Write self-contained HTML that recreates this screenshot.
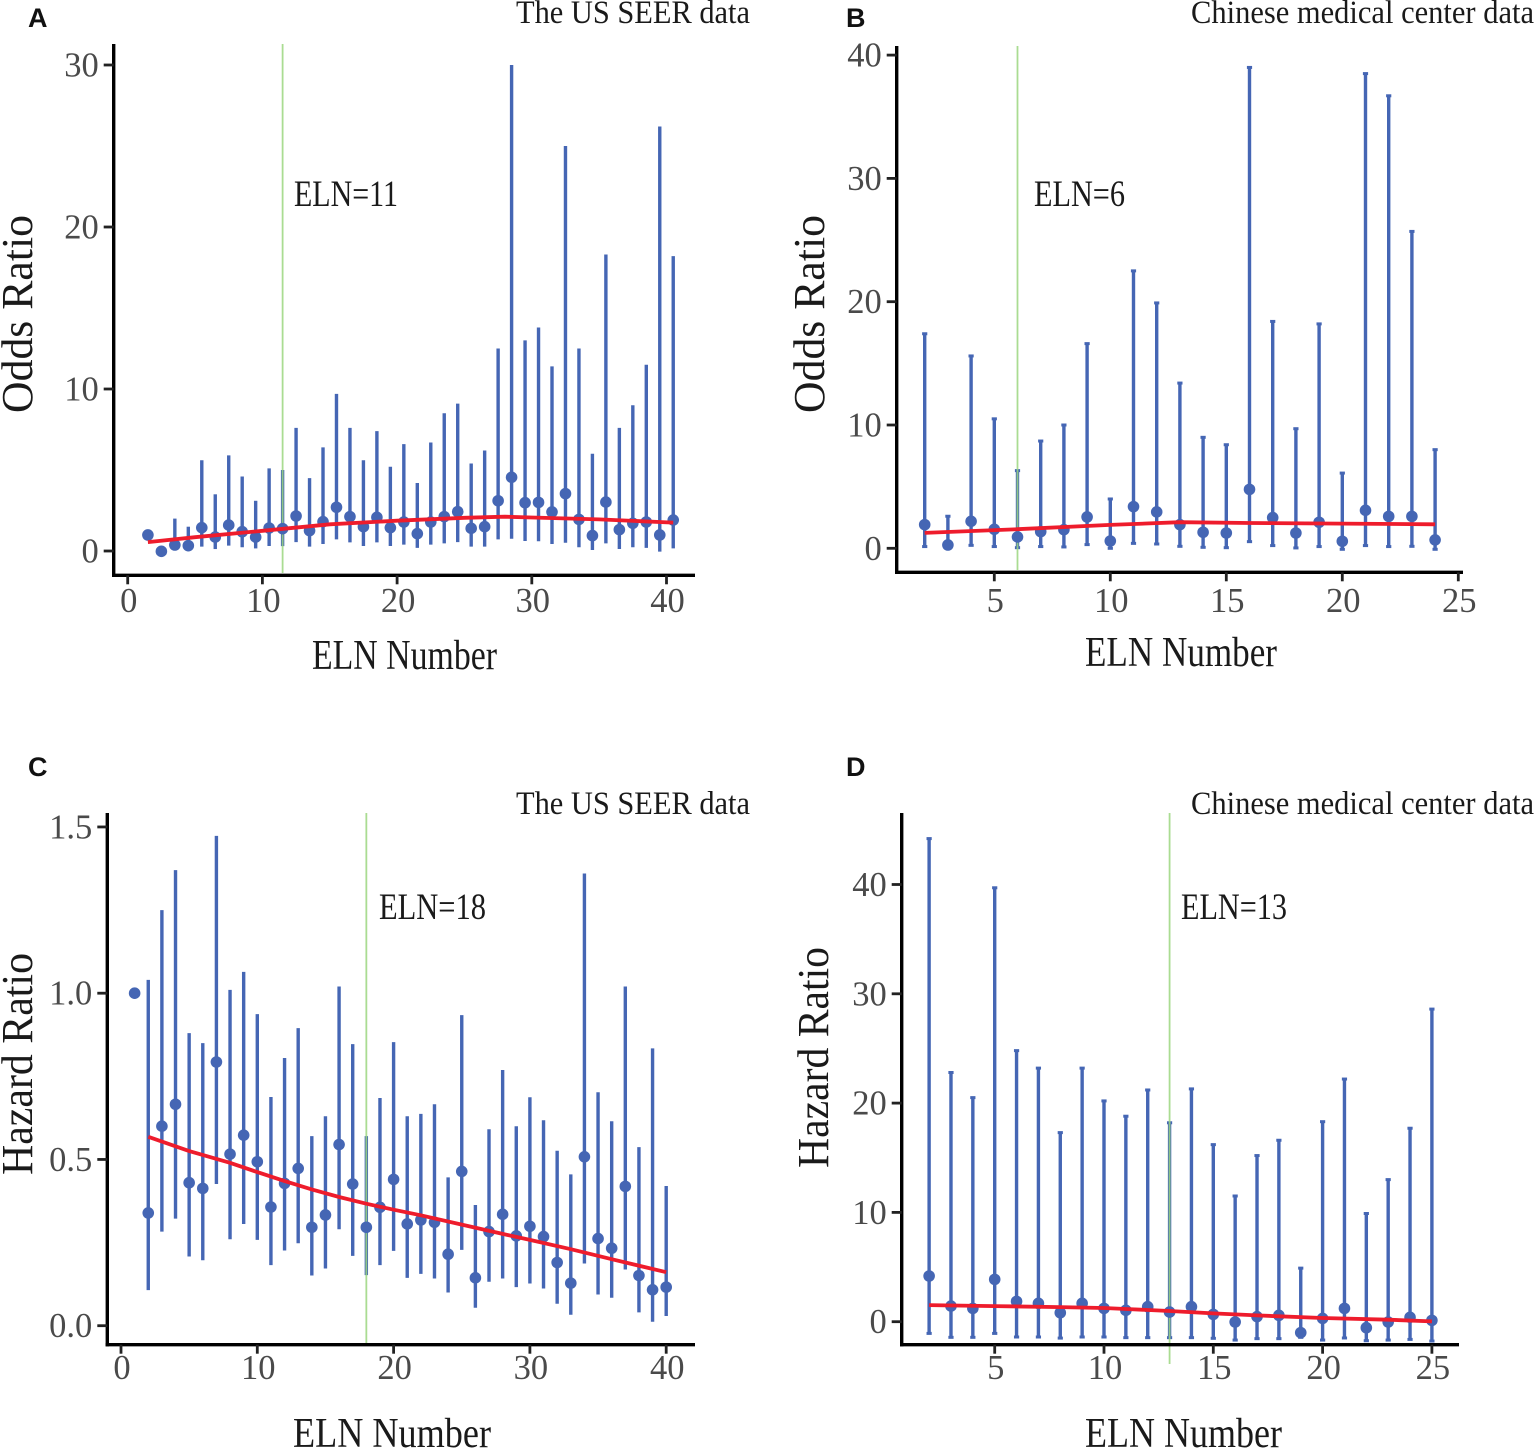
<!DOCTYPE html>
<html lang="en">
<head>
<meta charset="utf-8">
<title>ELN Number odds and hazard ratio panels</title>
<style>
  html, body { margin: 0; padding: 0; background: #fff; }
  body { width: 1535px; height: 1450px; overflow: hidden; }
  svg { display: block; }
  .serif { font-family: "Liberation Serif", serif; fill: #1a1a1a; }
  .tag { font-family: "Liberation Sans", sans-serif; font-weight: bold; font-size: 27px; fill: #111; }
  .tick { font-family: "Liberation Serif", serif; font-size: 34.5px; fill: #4a4a4a; }
</style>
</head>
<body>
<svg id="figure" width="1535" height="1450" viewBox="0 0 1535 1450" xmlns="http://www.w3.org/2000/svg">
  <rect width="1535" height="1450" fill="#fff"/>
  <g id="plot-a"></g>
  <g id="plot-b"></g>
  <g id="plot-c"></g>
  <g id="plot-d"></g>

  <text class="tag" x="28" y="27">A</text>
  <text class="tag" x="846" y="27">B</text>
  <text class="tag" x="28" y="776">C</text>
  <text class="tag" x="846" y="776">D</text>

  <text class="serif" x="516" y="23" font-size="33" textLength="234" lengthAdjust="spacingAndGlyphs">The US SEER data</text>
  <text class="serif" x="1191" y="23" font-size="33" textLength="343" lengthAdjust="spacingAndGlyphs">Chinese medical center data</text>
  <text class="serif" x="516" y="814" font-size="33" textLength="234" lengthAdjust="spacingAndGlyphs">The US SEER data</text>
  <text class="serif" x="1191" y="814" font-size="33" textLength="343" lengthAdjust="spacingAndGlyphs">Chinese medical center data</text>

  <text class="serif" x="294" y="206" font-size="37" textLength="104" lengthAdjust="spacingAndGlyphs">ELN=11</text>
  <text class="serif" x="1034" y="206" font-size="37" textLength="91" lengthAdjust="spacingAndGlyphs">ELN=6</text>
  <text class="serif" x="379" y="919" font-size="37" textLength="107" lengthAdjust="spacingAndGlyphs">ELN=18</text>
  <text class="serif" x="1181" y="919" font-size="37" textLength="106" lengthAdjust="spacingAndGlyphs">ELN=13</text>

  <text class="serif" x="312" y="669" font-size="42" textLength="185" lengthAdjust="spacingAndGlyphs">ELN Number</text>
  <text class="serif" x="1085" y="666" font-size="42" textLength="192" lengthAdjust="spacingAndGlyphs">ELN Number</text>
  <text class="serif" x="293" y="1447" font-size="42" textLength="198" lengthAdjust="spacingAndGlyphs">ELN Number</text>
  <text class="serif" x="1085" y="1447" font-size="42" textLength="197" lengthAdjust="spacingAndGlyphs">ELN Number</text>

  <text class="serif" transform="translate(32,413) rotate(-90)" font-size="44" textLength="198" lengthAdjust="spacingAndGlyphs">Odds Ratio</text>
  <text class="serif" transform="translate(824,413) rotate(-90)" font-size="44" textLength="198" lengthAdjust="spacingAndGlyphs">Odds Ratio</text>
  <text class="serif" transform="translate(32,1175) rotate(-90)" font-size="44" textLength="222" lengthAdjust="spacingAndGlyphs">Hazard Ratio</text>
  <text class="serif" transform="translate(828,1168) rotate(-90)" font-size="44" textLength="221" lengthAdjust="spacingAndGlyphs">Hazard Ratio</text>
</svg>

<script>
/* Panel A: US SEER odds ratio */
const aEln = [1.5,2.5,3.5,4.5,5.5,6.5,7.5,8.5,9.5,10.5,11.5,12.5,13.5,14.5,15.5,16.5,17.5,18.5,19.5,20.5,21.5,22.5,23.5,24.5,25.5,26.5,27.5,28.5,29.5,30.5,31.5,32.5,33.5,34.5,35.5,36.5,37.5,38.5,39.5,40.5];
const aMean = [0.99,-0.02,0.37,0.33,1.44,0.86,1.6,1.19,0.86,1.42,1.38,2.16,1.26,1.81,2.7,2.12,1.5,2.08,1.44,1.79,1.07,1.79,2.12,2.43,1.4,1.5,3.1,4.55,2.98,3.0,2.41,3.54,1.95,0.95,3.02,1.32,1.71,1.79,0.99,1.91];
const aLow = [null,null,0.2,0.2,0.27,0.12,0.33,0.23,0.16,0.31,0.3,0.55,0.27,0.43,0.72,0.53,0.31,0.53,0.31,0.39,0.19,0.39,0.47,0.55,0.27,0.27,0.72,0.76,0.62,0.6,0.43,0.51,0.23,0.06,0.47,0.12,0.23,0.19,-0.04,0.16];
const aHigh = [null,null,2.0,1.5,5.6,3.5,5.9,4.6,3.1,5.1,5.0,7.6,4.5,6.4,9.7,7.6,5.6,7.4,5.2,6.6,4.2,6.7,8.5,9.1,5.4,6.2,12.5,30,13,13.8,11.4,25,12.5,6.0,18.3,7.6,9.0,11.5,26.2,18.2];
const aFitX = [1.5,5,10,15,20,25,28,30,35,40.5];
const aFitY = [0.55,0.85,1.25,1.65,1.87,2.05,2.12,2.07,1.95,1.75];
const aThreshold = 11.5;
const aXTicks = [0,10,20,30,40];
const aYTicks = [0,10,20,30];
const aYLabels = ["0","10","20","30"];

/* Panel B: Chinese center odds ratio */
const bEln = [2,3,4,5,6,7,8,9,10,11,12,13,14,15,16,17,18,19,20,21,22,23,24];
const bMean = [1.92,0.27,2.19,1.54,0.92,1.35,1.51,2.54,0.59,3.38,2.95,1.92,1.3,1.24,4.78,2.49,1.24,2.11,0.57,3.08,2.59,2.59,0.68];
const bLow = [0.14,0.1,0.24,0.14,0.05,0.14,0.11,0.3,0,0.4,0.35,0.16,0.08,0.05,0.54,0.22,0.03,0.14,-0.08,0.22,0.14,0.16,-0.08];
const bHigh = [17.4,2.6,15.6,10.5,6.3,8.7,10,16.6,4.0,22.5,19.9,13.4,9.0,8.4,39,18.4,9.7,18.2,6.1,38.5,36.7,25.7,8.0];
const bFitX = [2,6,10,13,16,20,24];
const bFitY = [1.25,1.55,1.9,2.12,2.05,2.0,1.95];
const bThreshold = 6;
const bXTicks = [5,10,15,20,25];
const bYTicks = [0,10,20,30,40];
const bYLabels = ["0","10","20","30","40"];

/* Panel C: US SEER hazard ratio */
const cEln = [1,2,3,4,5,6,7,8,9,10,11,12,13,14,15,16,17,18,19,20,21,22,23,24,25,26,27,28,29,30,31,32,33,34,35,36,37,38,39,40];
const cMean = [1.0,0.339,0.6,0.666,0.43,0.413,0.793,0.516,0.573,0.493,0.357,0.428,0.473,0.296,0.333,0.545,0.426,0.296,0.356,0.44,0.306,0.318,0.311,0.215,0.464,0.144,0.283,0.335,0.27,0.299,0.268,0.19,0.128,0.508,0.262,0.233,0.419,0.151,0.108,0.116];
const cLow = [null,0.107,0.283,0.322,0.208,0.197,0.426,0.26,0.306,0.258,0.182,0.226,0.248,0.151,0.172,0.29,0.21,0.152,0.182,0.225,0.144,0.156,0.142,0.1,0.228,0.054,0.132,0.142,0.116,0.127,0.112,0.066,0.033,0.187,0.094,0.084,0.169,0.04,0.012,0.029];
const cHigh = [null,1.04,1.25,1.37,0.88,0.85,1.473,1.01,1.064,0.937,0.688,0.805,0.895,0.57,0.63,1.02,0.847,0.57,0.685,0.853,0.63,0.637,0.666,0.446,0.934,0.363,0.591,0.769,0.6,0.687,0.618,0.526,0.455,1.36,0.702,0.615,1.02,0.537,0.834,0.42];
const cFitX = [2,5,8,10,12,14,16,18,20,22,25,28,30,33,36,40];
const cFitY = [0.568,0.525,0.49,0.462,0.435,0.41,0.387,0.367,0.349,0.332,0.304,0.276,0.258,0.23,0.2,0.161];
const cThreshold = 18;
const cXTicks = [0,10,20,30,40];
const cYTicks = [0,0.5,1,1.5];
const cYLabels = ["0.0","0.5","1.0","1.5"];

/* Panel D: Chinese center hazard ratio */
const dEln = [2,3,4,5,6,7,8,9,10,11,12,13,14,15,16,17,18,19,20,21,22,23,24,25];
const dMean = [4.18,1.43,1.22,3.87,1.86,1.68,0.82,1.68,1.22,1.04,1.37,0.88,1.37,0.67,-0.03,0.46,0.58,-1.0,0.3,1.22,-0.55,-0.03,0.4,0.12];
const dLow = [-1.07,-1.43,-1.43,-1.07,-1.4,-1.4,-1.5,-1.4,-1.4,-1.46,-1.46,-1.46,-1.46,-1.52,-1.68,-1.55,-1.55,-1.43,-1.68,-1.49,-1.74,-1.68,-1.62,-1.77];
const dHigh = [44.2,22.8,20.5,39.7,24.8,23.2,17.3,23.2,20.2,18.8,21.2,18.2,21.3,16.2,11.5,15.2,16.6,4.9,18.3,22.2,9.9,13,17.7,28.6];
const dFitX = [2,5,8,10,11,13,15,17,20,23,25];
const dFitY = [1.52,1.43,1.34,1.25,1.16,0.98,0.76,0.58,0.34,0.18,0.03];
const dThreshold = 13;
const dXTicks = [5,10,15,20,25];
const dYTicks = [0,10,20,30,40];
const dYLabels = ["0","10","20","30","40"];

const NS = "http://www.w3.org/2000/svg";
const BLUE = "#4566b4";
const RED = "#ee1c2c";
const GREEN = "#9bd67f";

function make(tag, attrs, parent) {
  const el = document.createElementNS(NS, tag);
  for (const k in attrs) el.setAttribute(k, attrs[k]);
  parent.appendChild(el);
  return el;
}

function drawPanel(id, frame, eln, mean, low, high, fitX, fitY, threshold, xTicks, yTicks, yLabels) {
  const root = document.getElementById(id);
  const xScale = v => frame.x0 + v * frame.xUnit;
  const yScale = v => frame.y0 - v * frame.yUnit;

  /* confidence intervals */
  eln.forEach((x, i) => {
    if (low[i] === null || high[i] === null) return;
    const bar = make("line", { x1: xScale(x), x2: xScale(x), y1: yScale(low[i]), y2: yScale(high[i]), stroke: BLUE, "stroke-width": 3.4 }, root);
    
    
    if (frame.caps) {
      [low[i], high[i]].forEach(v => {
        const cap = make("line", { x1: xScale(x) - 2.6, x2: xScale(x) + 2.6, y1: yScale(v), y2: yScale(v), stroke: BLUE, "stroke-width": 3 }, root);
        
        
      });
    }
  });

  /* threshold line */
  const marker = make("line", { x1: xScale(threshold), x2: xScale(threshold), y1: frame.top, y2: frame.greenEnd, stroke: GREEN, "stroke-width": 1.8, "stroke-opacity": 0.85 }, root);
  
  

  /* point estimates */
  eln.forEach((x, i) => {
    const dot = make("circle", { cx: xScale(x), cy: yScale(mean[i]), r: 5.8, fill: BLUE }, root);
    
    
  });

  /* fitted curve */
  const points = fitX.map((x, i) => xScale(x).toFixed(1) + "," + yScale(fitY[i]).toFixed(1)).join(" ");
  const fit = make("polyline", { points: points, fill: "none", stroke: RED, "stroke-width": 3.8, "stroke-linejoin": "round" }, root);
  
  

  /* spines */
  const ySpine = make("line", { x1: frame.left, x2: frame.left, y1: frame.top, y2: frame.bottom + 1.7, stroke: "#000", "stroke-width": 3.4 }, root);
  
  
  const xSpine = make("line", { x1: frame.left - 1.7, x2: frame.right, y1: frame.bottom, y2: frame.bottom, stroke: "#000", "stroke-width": 3.4 }, root);
  
  

  /* x ticks */
  xTicks.forEach(v => {
    const t = make("line", { x1: xScale(v), x2: xScale(v), y1: frame.bottom, y2: frame.bottom + 9, stroke: "#222", "stroke-width": 2.8 }, root);
    
    
    const label = make("text", { x: xScale(v) + 1, y: frame.xLabelY, "text-anchor": "middle", class: "tick" }, root);
    
    
    label.textContent = String(v);
  });

  /* y ticks */
  yTicks.forEach((v, i) => {
    const t = make("line", { x1: frame.left - 10, x2: frame.left, y1: yScale(v), y2: yScale(v), stroke: "#222", "stroke-width": 2.8 }, root);
    
    
    const label = make("text", { x: frame.left - 15, y: yScale(v) + 11.5, "text-anchor": "end", class: "tick" }, root);
    
    
    label.textContent = yLabels[i];
  });
}

drawPanel("plot-a",
  { x0: 127.7, xUnit: 13.47, y0: 551, yUnit: 16.2, left: 113.7, right: 695, top: 44, bottom: 575.3, greenEnd: 573, xLabelY: 612, caps: false },
  aEln, aMean, aLow, aHigh, aFitX, aFitY, aThreshold, aXTicks, aYTicks, aYLabels);
drawPanel("plot-b",
  { x0: 878.3, xUnit: 23.2, y0: 548.3, yUnit: 12.33, left: 896.7, right: 1463, top: 46, bottom: 572.3, greenEnd: 570, xLabelY: 612, caps: true },
  bEln, bMean, bLow, bHigh, bFitX, bFitY, bThreshold, bXTicks, bYTicks, bYLabels);
drawPanel("plot-c",
  { x0: 121, xUnit: 13.63, y0: 1325.7, yUnit: 332.5, left: 107.3, right: 695, top: 813, bottom: 1344.7, greenEnd: 1344, xLabelY: 1379, caps: false },
  cEln, cMean, cLow, cHigh, cFitX, cFitY, cThreshold, cXTicks, cYTicks, cYLabels);
drawPanel("plot-d",
  { x0: 885.4, xUnit: 21.86, y0: 1321.7, yUnit: 10.93, left: 901.7, right: 1459, top: 813, bottom: 1344.7, greenEnd: 1364, xLabelY: 1379, caps: true },
  dEln, dMean, dLow, dHigh, dFitX, dFitY, dThreshold, dXTicks, dYTicks, dYLabels);
</script>
</body>
</html>
